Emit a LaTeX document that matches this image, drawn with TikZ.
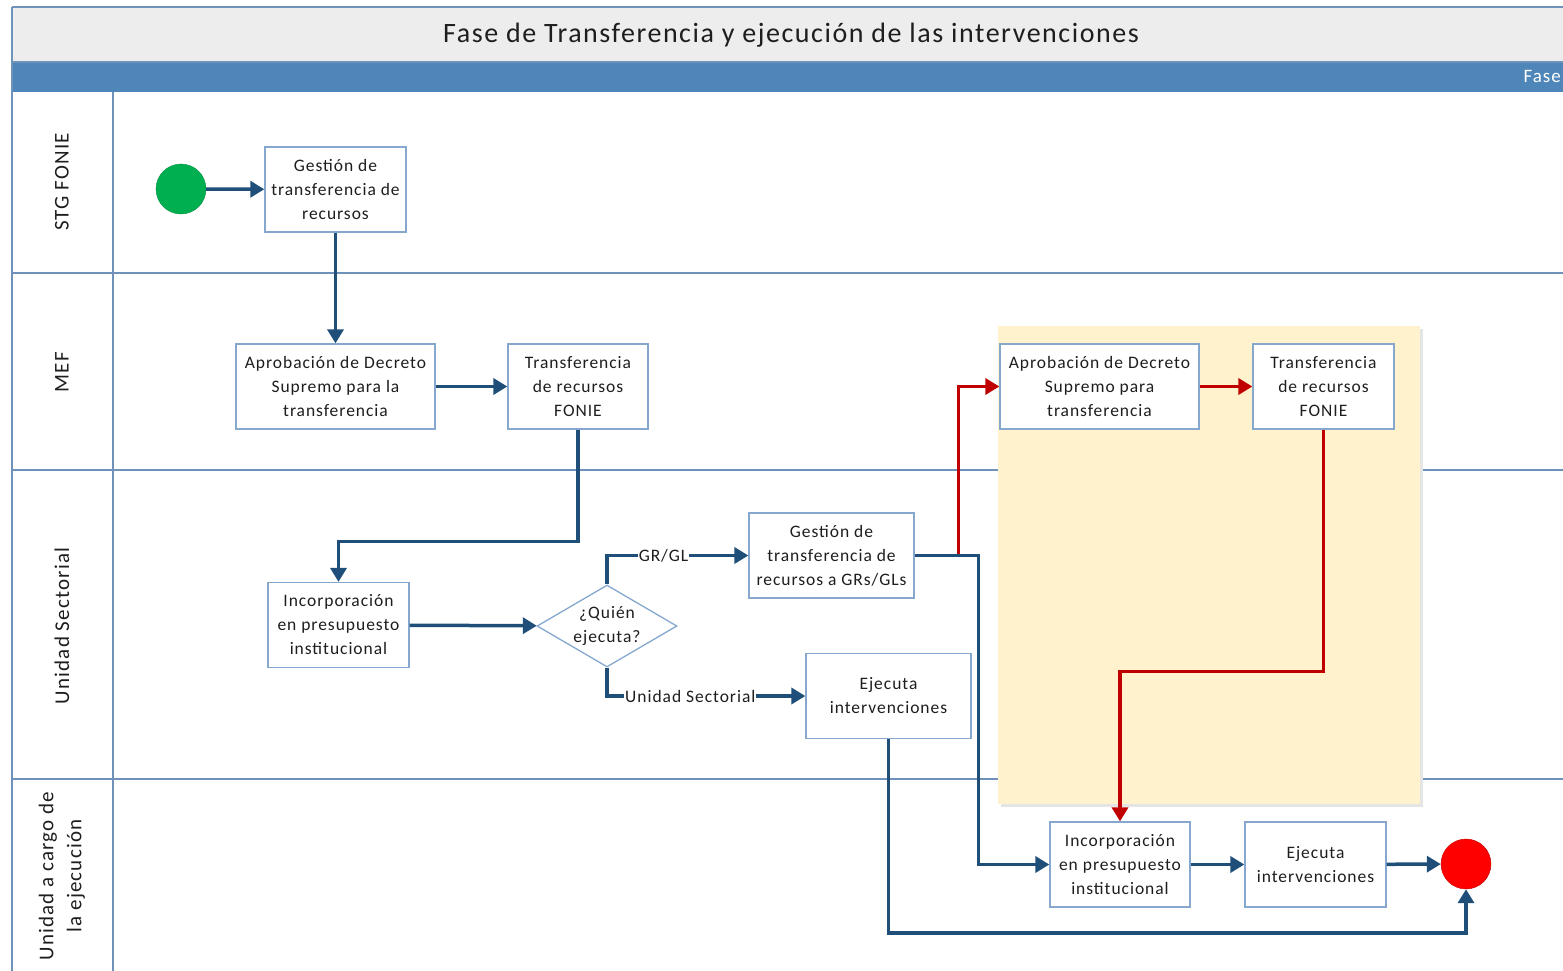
\documentclass[tikz,border=0pt]{standalone}
\usepackage{fontspec}
\setmainfont{Carlito}[LetterSpace=5.5]
\usetikzlibrary{arrows.meta, calc, shapes.geometric}
\definecolor{ink}{HTML}{1E1E1E}
\definecolor{laneln}{HTML}{6E92BA}
\definecolor{band}{HTML}{4E86B9}
\definecolor{titlebg}{HTML}{EDEDED}
\definecolor{boxln}{HTML}{86A8CE}
\definecolor{navy}{HTML}{1F4E79}
\definecolor{redd}{HTML}{C00000}
\definecolor{hilite}{HTML}{FFF2CC}
\definecolor{go}{HTML}{00B050}

\begin{document}
\begin{tikzpicture}[x=1pt, y=-1pt,
  task/.style={draw=boxln, line width=1.3pt, fill=white, align=center, inner sep=0pt,
    minimum height=85, text=ink, font=\fontsize{17.5}{24}\selectfont},
  ask/.style={diamond, draw=boxln, line width=1.3pt, fill=white, align=center, inner sep=0pt,
    shape aspect=1.7, minimum width=140, minimum height=82, text=ink,
    font=\fontsize{17.5}{24}\selectfont},
  lane/.style={rotate=90, align=center, text=ink, font=\fontsize{21}{28}\selectfont},
  lbl/.style={fill=white, inner sep=1pt, text=ink, font=\fontsize{17.5}{20}\selectfont},
  flow/.style={draw=navy, line width=3.5pt, -{Triangle[length=14pt, width=16pt]}},
  redflow/.style={draw=redd, line width=3.5pt, -{Triangle[length=14pt, width=16pt]}}]
  \clip (0,0) rectangle (1563,970);
  % pool header
  \fill[titlebg] (12,7) rectangle (1570,62);
  \fill[band] (12,62) rectangle (1570,92);
  \node[text=ink, font=\fontsize{28}{32}\selectfont] (title) at (791,35)
    {Fase de Transferencia y ejecución de las intervenciones};
  \node[anchor=west, text=white, font=\fontsize{19}{22}\selectfont] (phase) at (1520,76) {Fase};
  % swimlanes
  \foreach \y in {7, 62, 273, 470, 779}{
    \draw[laneln, line width=1.6pt] (12,\y) -- (1570,\y);
  }
  \draw[laneln, line width=1.6pt] (12,7) -- (12,975);
  \draw[laneln, line width=1.6pt] (113,92) -- (113,975);
  \node[lane] (l1) at (62,182) {STG FONIE};
  \node[lane] (l2) at (62,372) {MEF};
  \node[lane] (l3) at (62,626) {Unidad Sectorial};
  \node[lane] (l4) at (62,876) {Unidad a cargo de\\la ejecución};
  % highlighted block
  \fill[black!10] (1001,329) rectangle (1423,807);
  \fill[hilite] (998,326) rectangle (1420,804);

  \node[circle, fill=go, draw=go!80!black, minimum size=50, inner sep=0pt] (start) at (181,189) {};
  \node[task, minimum width=141] (g1) at (335.5,189.5) {Gestión de\\transferencia de\\recursos};
  \node[task, minimum width=199] (a1) at (335.5,386.5) {Aprobación de Decreto\\Supremo para la\\transferencia};
  \node[task, minimum width=140] (t1) at (578,386.5) {Transferencia\\de recursos\\FONIE};
  \node[task, minimum width=141] (i1) at (338.5,625) {Incorporación\\en presupuesto\\institucional};
  \node[ask] (who) at (607,626) {¿Quién\\ejecuta?};
  \node[task, minimum width=165] (g2) at (831.5,555.5) {Gestión de\\transferencia de\\recursos a GRs/GLs};
  \node[task, minimum width=165] (e1) at (888.5,696) {Ejecuta\\intervenciones};
  \node[task, minimum width=199] (a2) at (1099.5,386.5) {Aprobación de Decreto\\Supremo para\\transferencia};
  \node[task, minimum width=141] (t2) at (1323.5,386.5) {Transferencia\\de recursos\\FONIE};
  \node[task, minimum width=140] (i2) at (1120,864.5) {Incorporación\\en presupuesto\\institucional};
  \node[task, minimum width=141] (e2) at (1315.5,864.5) {Ejecuta\\intervenciones};
  \node[circle, fill=red, draw=red!75!black, minimum size=50, inner sep=0pt] (stop) at (1466,864) {};

  \draw[flow] (start) -- (g1);
  \draw[flow] (g1) -- (a1);
  \draw[flow] (a1) -- (t1);
  \draw[flow] (t1.south) -- ++(0,112) -| (i1.north);
  \draw[flow] (i1) -- (who);
  \draw[flow] (who.north) |- (g2.west) node[lbl, pos=0.7] {GR/GL};
  \draw[flow] (who.south) |- (e1.west) node[lbl, pos=0.71] {Unidad Sectorial};
  \draw[redflow] (g2.east) -- ++(44,0) |- (a2.west);
  \draw[flow] (g2.east) -- ++(64,0) |- (i2.west);
  \draw[redflow] (a2) -- (t2);
  \draw[redflow] (t2.south) -- ++(0,242) -| (i2.north);
  \draw[flow] (i2) -- (e2);
  \draw[flow] (e2) -- (stop);
  \draw[flow] (e1.south) -- ++(0,194) -| (stop.south);
\end{tikzpicture}
\end{document}
